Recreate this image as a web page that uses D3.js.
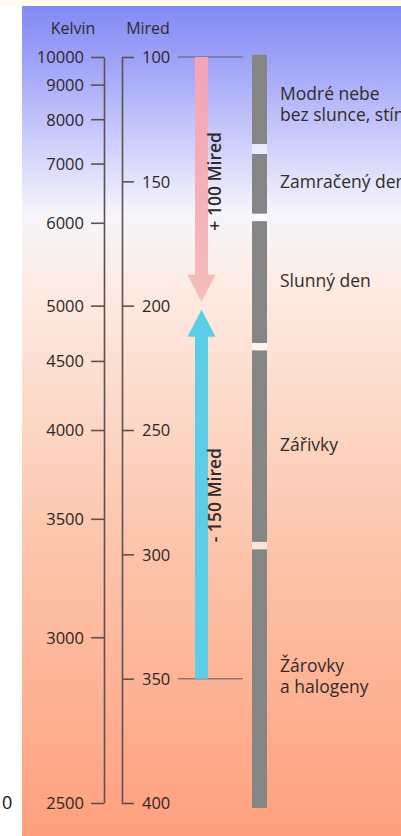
<!DOCTYPE html>
<html>
<head>
<meta charset="utf-8">
<script src="https://cdn.jsdelivr.net/npm/d3@7"></script>
<style>
  body { margin: 0; background: #fff; }
  svg { display: block; }
  .axis text { font-family: "Open Sans", sans-serif; font-size: 16.5px; fill: #2e2626; }
  .axis line, .axis path { stroke: #5e5050; stroke-width: 1.6; }
  .lbl { font-family: "Open Sans", sans-serif; font-size: 17.5px; fill: #332b2b; }
</style>
</head>
<body>
<script>
// kelvin ticks (placed at mired = 1e6 / K)
var kelvin_ticks = [10000, 9000, 8000, 7000, 6000, 5000, 4500, 4000, 3500, 3000, 2500];
var mired_ticks = [100, 150, 200, 250, 300, 350, 400];

// light source ranges on the mired scale
var source_names = [["Modré nebe", "bez slunce, stín"], ["Zamračený den"], ["Slunný den"], ["Zářivky"], ["Žárovky", "a halogeny"]];
var source_from = [99, 139, 166, 218, 298];
var source_to = [135, 163, 215, 295, 402];
var source_label_at = [119, 150, 190, 256, 349];

// filter shifts
var shift_from = [100, 350];
var shift_to = [200, 200];
var shift_names = ["+ 100 Mired", "- 150 Mired"];

var width = 401, height = 836;

var svg = d3.select("body").append("svg")
	.attr("width", width)
	.attr("height", height);

var defs = svg.append("defs");

var bg = defs.append("linearGradient")
	.attr("id", "bg")
	.attr("x1", 0).attr("y1", 0).attr("x2", 0).attr("y2", 1);
[[0, "#8289f3"], [0.07, "#a0a4f8"], [0.25, "#f6f5fc"], [0.33, "#fdece5"], [0.62, "#fcc8b0"], [1, "#ffa07d"]]
	.forEach(function(s) {
		bg.append("stop").attr("offset", s[0]).attr("stop-color", s[1]);
	});

var pink = defs.append("linearGradient")
	.attr("id", "pink")
	.attr("x1", 0).attr("y1", 0).attr("x2", 0).attr("y2", 1);
pink.append("stop").attr("offset", 0).attr("stop-color", "#f2a3b6");
pink.append("stop").attr("offset", 1).attr("stop-color", "#f7bcbc");

// top strip + panel
svg.append("rect")
	.attr("x", 0).attr("y", 0)
	.attr("width", width).attr("height", 6)
	.attr("fill", "#fffbee");

svg.append("rect")
	.attr("x", 22).attr("y", 6)
	.attr("width", width - 22).attr("height", height - 6)
	.attr("fill", "url(#bg)");

var y = d3.scaleLinear()
	.domain([100, 400])
	.range([57, 803]);

var x_kelvin = 104, x_mired = 122;

// kelvin axis
svg.append("g")
	.attr("class", "axis")
	.attr("transform", "translate(" + x_kelvin + ",0)")
	.call(d3.axisLeft(y)
		.tickValues(kelvin_ticks.map(function(k) { return 1e6 / k; }))
		.tickFormat(function(d, i) { return kelvin_ticks[i]; })
		.tickSize(13)
		.tickSizeOuter(0)
		.tickPadding(7));

// mired axis
svg.append("g")
	.attr("class", "axis")
	.attr("transform", "translate(" + x_mired + ",0)")
	.call(d3.axisRight(y)
		.tickValues(mired_ticks)
		.tickFormat(d3.format("d"))
		.tickSize(12)
		.tickSizeOuter(0)
		.tickPadding(8));

svg.selectAll(".axis text").attr("dy", "0.36em");

// titles
svg.append("text").attr("class", "lbl")
	.attr("x", 73).attr("y", 34)
	.attr("text-anchor", "middle")
	.style("font-size", "16px")
	.text("Kelvin");

svg.append("text").attr("class", "lbl")
	.attr("x", 148).attr("y", 34)
	.attr("text-anchor", "middle")
	.style("font-size", "16px")
	.text("Mired");

// cut off label at left edge
svg.append("text").attr("class", "lbl")
	.attr("x", 2).attr("y", y(400) + 6)
	.style("font-size", "18px")
	.style("fill", "#111")
	.text("0");

// reference lines at start of shifts
svg.selectAll(".ref")
	.data(shift_from)
	.enter().append("line")
	.attr("class", "ref")
	.attr("x1", 178).attr("x2", 243)
	.attr("y1", function(d) { return y(d); })
	.attr("y2", function(d) { return y(d); })
	.attr("stroke", "#6e6070")
	.attr("stroke-opacity", 0.75)
	.attr("stroke-width", 1.5);

// arrows
var ax = 201.5, shaft = 13, head = 28, head_len = 27;

function arrow_path(from, to) {
	var y0 = y(from), tip = y(to) + (from < to ? -4 : 4);
	var dir = tip > y0 ? 1 : -1;
	var base = tip - dir * head_len;
	return "M" + (ax - shaft / 2) + "," + y0 +
		"L" + (ax - shaft / 2) + "," + base +
		"L" + (ax - head / 2) + "," + base +
		"L" + ax + "," + tip +
		"L" + (ax + head / 2) + "," + base +
		"L" + (ax + shaft / 2) + "," + base +
		"L" + (ax + shaft / 2) + "," + y0 + "Z";
}

svg.selectAll(".arrow")
	.data(shift_from)
	.enter().append("path")
	.attr("class", "arrow")
	.attr("d", function(d, i) { return arrow_path(d, shift_to[i]); })
	.attr("fill", function(d, i) { return i == 0 ? "url(#pink)" : "#5ccde6"; });

svg.selectAll(".shift")
	.data(shift_names)
	.enter().append("text")
	.attr("class", "lbl shift")
	.attr("transform", function(d, i) {
		var mid = y((shift_from[i] + shift_to[i]) / 2) + (i == 0 ? 0 : 3);
		return "translate(221," + mid + ") rotate(-90)";
	})
	.attr("text-anchor", "middle")
	.style("font-weight", 600)
	.style("font-size", "17.5px")
	.text(function(d) { return d; });

// light source bars
svg.append("rect")
	.attr("x", 252).attr("width", 15)
	.attr("y", y(source_from[0])).attr("height", y(source_to[4]) - y(source_from[0]))
	.attr("fill", "#fff").attr("opacity", 0.55);

svg.selectAll(".src")
	.data(source_from)
	.enter().append("rect")
	.attr("class", "src")
	.attr("x", 252).attr("width", 15)
	.attr("y", function(d) { return y(d); })
	.attr("height", function(d, i) { return y(source_to[i]) - y(d); })
	.attr("fill", "#858585");

var src_lbl = svg.selectAll(".srclbl")
	.data(source_names)
	.enter().append("text")
	.attr("class", "lbl srclbl")
	.attr("x", 280)
	.attr("y", function(d, i) { return y(source_label_at[i]); });

src_lbl.selectAll("tspan")
	.data(function(d) { return d; })
	.enter().append("tspan")
	.attr("x", 280)
	.attr("dy", function(d, j, nodes) {
		var n = nodes.length;
		return j == 0 ? (0.36 - (n - 1) * 0.62) + "em" : "1.24em";
	})
	.text(function(d) { return d; });
</script>
</body>
</html>
